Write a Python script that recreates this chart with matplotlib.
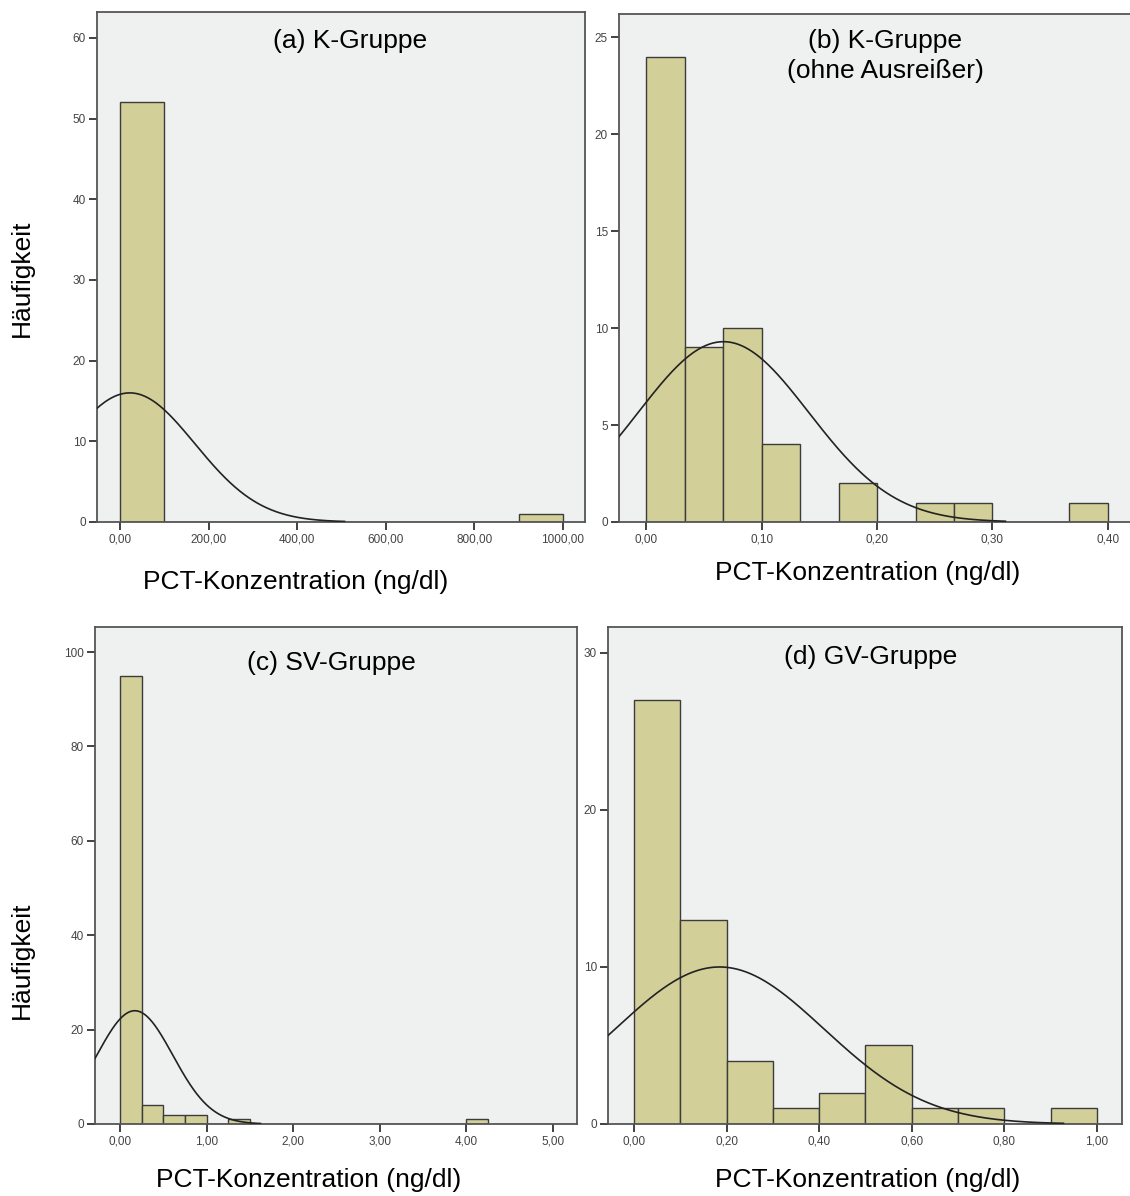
import numpy as np
import matplotlib
matplotlib.use("Agg")
import matplotlib.pyplot as plt

plt.rcParams['font.family'] = ['Liberation Sans', 'DejaVu Sans']

# Daten
# (a) K-Gruppe
a_edges = [0, 100, 200, 300, 400, 500, 600, 700, 800, 900, 1000]
a_counts = [52, 0, 0, 0, 0, 0, 0, 0, 0, 1]
a_norm = (22, 147, 16.0)          # Mittelwert, SD, Spitzenhöhe der Normalkurve

# (b) K-Gruppe ohne Ausreißer
b_edges = [0, 1/30, 2/30, 3/30, 4/30, 5/30, 6/30, 7/30, 8/30, 9/30, 10/30, 11/30, 12/30]
b_counts = [24, 9, 10, 4, 0, 2, 0, 1, 1, 0, 0, 1]
b_norm = (0.067, 0.074, 9.3)

# (c) SV-Gruppe
c_edges = [0, 0.25, 0.5, 0.75, 1.0, 1.25, 1.5, 1.75, 2.0, 2.25, 2.5, 2.75, 3.0,
           3.25, 3.5, 3.75, 4.0, 4.25]
c_counts = [95, 4, 2, 2, 0, 1, 0, 0, 0, 0, 0, 0, 0, 0, 0, 0, 1]
c_norm = (0.17, 0.44, 24.0)

# (d) GV-Gruppe
d_edges = [0, 0.1, 0.2, 0.3, 0.4, 0.5, 0.6, 0.7, 0.8, 0.9, 1.0]
d_counts = [27, 13, 4, 1, 2, 5, 1, 1, 0, 1]
d_norm = (0.185, 0.225, 10.0)

titles = ["(a) K-Gruppe", "(b) K-Gruppe\n(ohne Ausreißer)", "(c) SV-Gruppe", "(d) GV-Gruppe"]
xlabel = "PCT-Konzentration (ng/dl)"
ylabel = "Häufigkeit"

W, H = 1130, 1196
fig = plt.figure(figsize=(W / 100, H / 100), dpi=100)

bg = "#eff0f0"
bar_col = "#d3cf98"
edge_col = "#3c3c3c"


def px_axes(l, t, r, b):
    return fig.add_axes([l / W, 1 - b / H, (r - l) / W, (b - t) / H])


def panel(ax, edges, counts, norm, xlim, ylim, xticks, yticks, title, tpos, show_right=True):
    ax.set_facecolor(bg)
    edges = np.array(edges)
    ax.bar(edges[:-1], counts, width=np.diff(edges), align='edge',
           color=bar_col, edgecolor=edge_col, linewidth=1.0, zorder=2)
    m, s, pk = norm
    xs = np.linspace(xlim[0], m + 3.3 * s, 400)
    ax.plot(xs, pk * np.exp(-(xs - m) ** 2 / (2 * s ** 2)), color="#222222", lw=1.2, zorder=3)
    ax.set_xlim(*xlim)
    ax.set_ylim(*ylim)
    ax.set_xticks(xticks)
    ax.set_xticklabels([("%.2f" % v).replace(".", ",") for v in xticks])
    ax.set_yticks(yticks)
    ax.tick_params(direction='out', length=6, width=1.3, color="#333333",
                   labelsize=8.5, labelcolor="#444444", pad=2)
    for sp in ax.spines.values():
        sp.set_color("#555555")
        sp.set_linewidth(1.3)
    if not show_right:
        ax.spines['right'].set_visible(False)
    ax.text(tpos[0], tpos[1], title, transform=ax.transAxes, ha='center', va='center',
            fontsize=19, linespacing=1.3)


ax_a = px_axes(97, 12, 585, 522)
panel(ax_a, a_edges, a_counts, a_norm, (-52, 1050), (0, 63.2),
      [0, 200, 400, 600, 800, 1000], range(0, 61, 10), titles[0], (0.518, 0.943))

ax_b = px_axes(619, 14, 1131, 522)
panel(ax_b, b_edges, b_counts, b_norm, (-0.0235, 0.42), (0, 26.2),
      [0, 0.1, 0.2, 0.3, 0.4], range(0, 26, 5), titles[1], (0.52, 0.918), show_right=False)

ax_c = px_axes(95, 627, 577, 1124)
panel(ax_c, c_edges, c_counts, c_norm, (-0.29, 5.28), (0, 105.3),
      [0, 1, 2, 3, 4, 5], range(0, 101, 20), titles[2], (0.49, 0.928))

ax_d = px_axes(608, 627, 1122, 1124)
panel(ax_d, d_edges, d_counts, d_norm, (-0.056, 1.054), (0, 31.65),
      [0, 0.2, 0.4, 0.6, 0.8, 1.0], range(0, 31, 10), titles[3], (0.51, 0.94))

# Achsenbeschriftungen
for x, y in [(296, 582), (868, 573), (309, 1180), (868, 1180)]:
    fig.text(x / W, 1 - y / H, xlabel, ha='center', va='center', fontsize=19)
for y in [278, 960]:
    fig.text(22 / W, 1 - y / H, ylabel, ha='center', va='center', rotation=90, fontsize=19)

fig.savefig("out.png", dpi=100)
